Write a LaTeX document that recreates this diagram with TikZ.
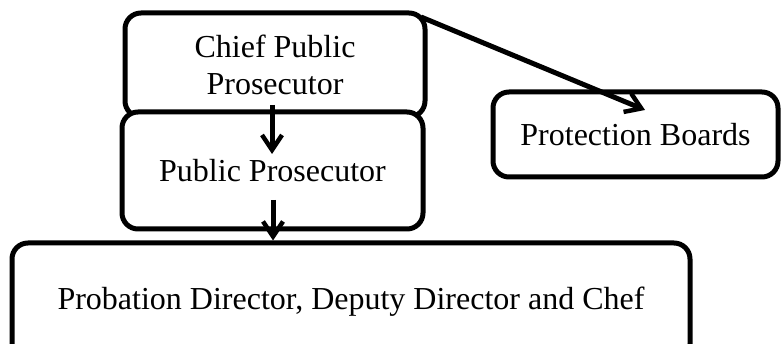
\documentclass[tikz,border=0pt]{standalone}
\usepackage{fontspec}
\setmainfont{Liberation Serif}
\usetikzlibrary{arrows.meta,calc}
\tikzset{
  orgbox/.style={draw=black, line width=5pt, rounded corners=16pt, fill=white,
    inner sep=0pt, align=center, font=\fontsize{32}{37}\selectfont},
  orgarrow/.style={line width=5pt, -{Straight Barb[length=15pt,width=20pt,line width=4.5pt]}}
}
\begin{document}
\begin{tikzpicture}[x=1pt,y=-1pt]
\useasboundingbox (0,0) rectangle (784,344);
\clip (0,0) rectangle (784,344);
\node[orgbox, minimum width=300pt, minimum height=104pt] (chief) at (275,65) {Chief Public\\Prosecutor};
\node[orgbox, minimum width=301pt, minimum height=117pt] (pp) at (272.5,170.5) {Public Prosecutor};
\node[orgbox, minimum width=285pt, minimum height=85pt] (pb) at (635.5,134.5) {Protection Boards};
\node[orgbox, minimum width=678pt, minimum height=117pt] (prob) at (351,301.5) {Probation Director, Deputy Director and Chef};
\coordinate (a1s) at (272,105);
\coordinate (a1e) at (272,154);
\coordinate (a2s) at (273,200);
\coordinate (a3s) at (421,17);
\coordinate (a3e) at (645,110);
\draw[orgarrow] (a1s) -- (a1e);
\draw[orgarrow] (a2s) -- (a2s |- prob.north);
\draw[orgarrow] (a3s) -- (a3e);
\end{tikzpicture}
\end{document}
